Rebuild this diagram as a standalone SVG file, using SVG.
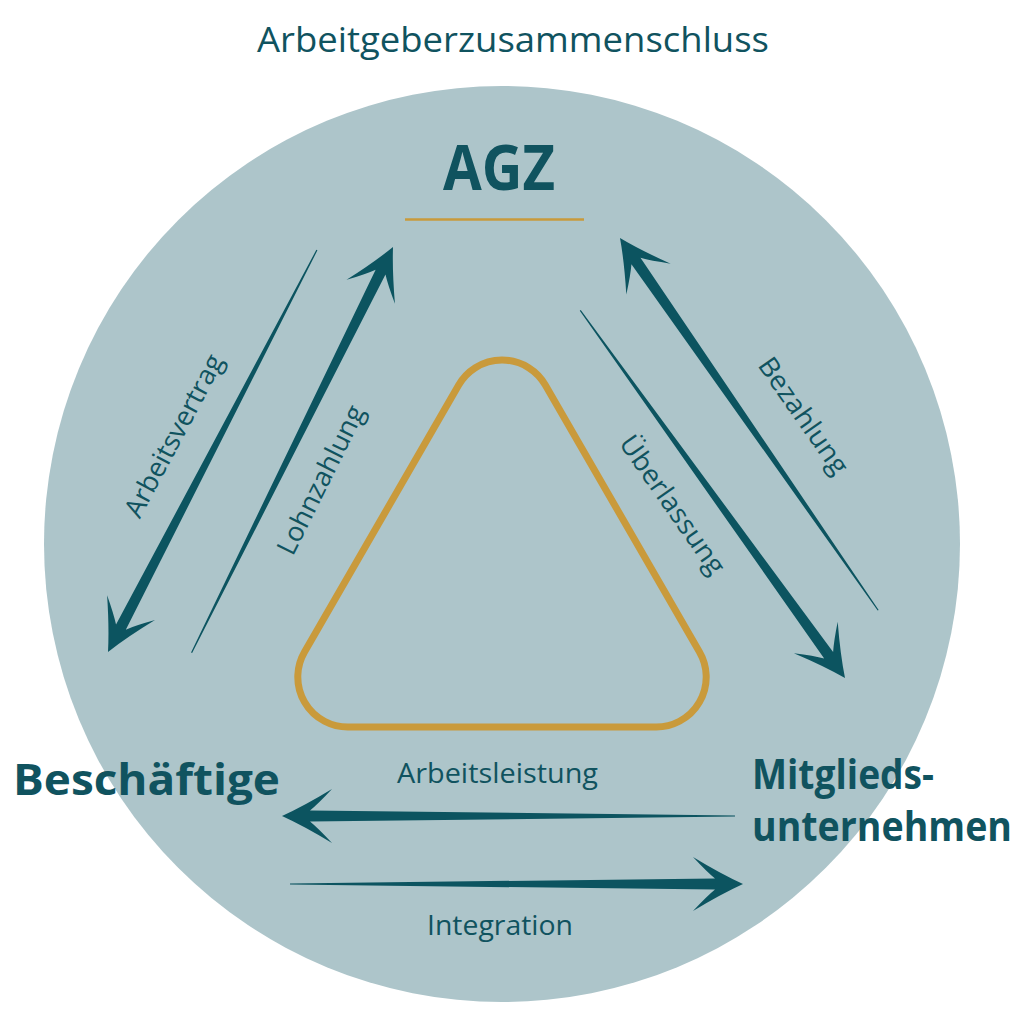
<svg xmlns="http://www.w3.org/2000/svg" xmlns:xlink="http://www.w3.org/1999/xlink" width="1024" height="1024" viewBox="0 0 1024 1024">
  <style>
    .txt { font-family: "Open Sans", "Noto Sans", "Liberation Sans", sans-serif; fill: #10535f; }
    .lbl { font-size: 27px; font-weight: 400; }
    .node { font-weight: 700; }
    .arrow { fill: #0c5460; }
  </style>
  <defs>
    <path id="tarrow" class="arrow" d="M0,0 Q-22,-10 -50,-27 Q-36,-12 -28,-5.5 L-453,-0.6 L-453,0.6 L-28,5.5 Q-36,12 -50,27 Q-22,10 0,0 Z"/>
  </defs>
  <rect width="1024" height="1024" fill="#ffffff"/>
  <circle id="background" cx="502" cy="544" r="458" fill="#adc5ca"/>
  <text class="txt" x="257" y="52" font-size="35" textLength="512" lengthAdjust="spacingAndGlyphs">Arbeitgeberzusammenschluss</text>
  <path id="triangle" d="M458.7,385 A50,50 0 0 1 545.3,385 L699.5,652 A50,50 0 0 1 656.2,727 L347.8,727 A50,50 0 0 1 304.5,652 Z" fill="none" stroke="#c99a3b" stroke-width="7"/>

  <g id="node-agz">
    <text class="txt node" x="443" y="190" font-size="62" textLength="112" lengthAdjust="spacingAndGlyphs">AGZ</text>
    <line x1="405" y1="219.5" x2="584" y2="219.5" stroke="#c99a3b" stroke-width="2.5"/>
  </g>
  <g id="node-beschaeftigte">
    <text class="txt node" x="13" y="795" font-size="43" textLength="267" lengthAdjust="spacingAndGlyphs">Beschäftige</text>
  </g>
  <g id="node-mitgliedsunternehmen">
    <text class="txt node" x="752" y="789" font-size="41" textLength="182" lengthAdjust="spacingAndGlyphs">Mitglieds-</text>
    <text class="txt node" x="752" y="841" font-size="41" textLength="260" lengthAdjust="spacingAndGlyphs">unternehmen</text>
  </g>

  <g id="connectors">
    <use xlink:href="#tarrow" href="#tarrow" transform="translate(108,652) rotate(117.46)"/>
    <use xlink:href="#tarrow" href="#tarrow" transform="translate(393,247) rotate(-63.6)"/>
    <use xlink:href="#tarrow" href="#tarrow" transform="translate(620,238) rotate(-124.74)"/>
    <use xlink:href="#tarrow" href="#tarrow" transform="translate(845,678) rotate(54.24)"/>
    <use xlink:href="#tarrow" href="#tarrow" transform="translate(282,816) rotate(180)"/>
    <use xlink:href="#tarrow" href="#tarrow" transform="translate(743,884) rotate(0)"/>
    <text class="txt lbl" text-anchor="middle" transform="translate(182,440) rotate(-62)" textLength="180" lengthAdjust="spacingAndGlyphs">Arbeitsvertrag</text>
    <text class="txt lbl" text-anchor="middle" transform="translate(329,484) rotate(-63.5)" textLength="163" lengthAdjust="spacingAndGlyphs">Lohnzahlung</text>
    <text class="txt lbl" text-anchor="middle" transform="translate(796,421) rotate(55)" textLength="136" lengthAdjust="spacingAndGlyphs">Bezahlung</text>
    <text class="txt lbl" text-anchor="middle" transform="translate(665,510) rotate(55)" textLength="163" lengthAdjust="spacingAndGlyphs">Überlassung</text>
    <text class="txt lbl" x="397" y="783" textLength="201" lengthAdjust="spacingAndGlyphs">Arbeitsleistung</text>
    <text class="txt lbl" x="427" y="935" textLength="146" lengthAdjust="spacingAndGlyphs">Integration</text>
  </g>
</svg>
